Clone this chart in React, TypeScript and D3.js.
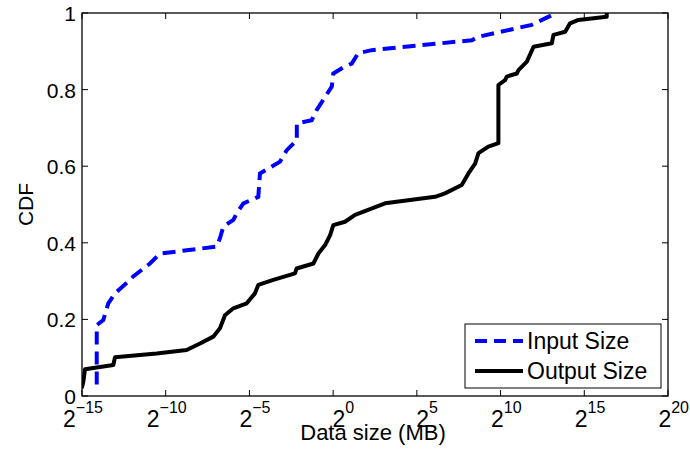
import React from "react";
import * as d3 from "d3";

// x values are log2 of data size in MB
const inputExp = [-14.12, -14.12, -13.73, -13.43, -13.03, -12.13, -11.94, -10.94, -10.44, -10.34, -6.95, -6.76, -6.56, -5.96, -5.76, -5.36, -4.47, -4.37, -4.17, -3.17, -2.77, -2.17, -2.17, -1.28, -0.98, -0.48, -0.08, 0.01, 0.61, 1.11, 1.5, 2.3, 8.28, 8.68, 11.86, 12.66, 13.36];
const inputCdf = [0.03, 0.185, 0.198, 0.242, 0.268, 0.303, 0.312, 0.346, 0.368, 0.372, 0.39, 0.412, 0.442, 0.46, 0.477, 0.503, 0.52, 0.581, 0.586, 0.612, 0.642, 0.668, 0.712, 0.72, 0.747, 0.781, 0.808, 0.842, 0.858, 0.868, 0.895, 0.903, 0.929, 0.938, 0.969, 0.986, 1.0];

const outputExp = [-15.02, -14.92, -14.82, -13.13, -13.03, -10.54, -8.75, -7.95, -7.16, -6.76, -6.46, -5.96, -5.16, -4.67, -4.47, -3.57, -2.28, -2.18, -1.18, -0.88, -0.48, -0.18, 0.01, 0.71, 1.31, 3.1, 6.09, 6.68, 7.68, 8.08, 8.48, 8.68, 9.27, 9.87, 9.87, 10.27, 10.37, 10.97, 11.07, 11.57, 11.97, 13.06, 13.16, 13.86, 14.15, 14.65, 16.34, 16.34];
const outputCdf = [0.02, 0.037, 0.07, 0.081, 0.101, 0.111, 0.12, 0.137, 0.155, 0.177, 0.211, 0.229, 0.242, 0.268, 0.29, 0.303, 0.32, 0.333, 0.346, 0.372, 0.394, 0.42, 0.446, 0.455, 0.473, 0.503, 0.52, 0.529, 0.551, 0.581, 0.607, 0.634, 0.651, 0.66, 0.812, 0.825, 0.834, 0.842, 0.851, 0.873, 0.912, 0.921, 0.943, 0.951, 0.973, 0.982, 0.99, 1.0];

const xTickExp = [-15, -10, -5, 0, 5, 10, 15, 20];
const yTicks = [0, 0.2, 0.4, 0.6, 0.8, 1];
const seriesNames = ["Input Size", "Output Size"];

const W = 690;
const H = 449;
const m = { left: 82, right: 22, top: 13, bottom: 53 };
const font = "'Liberation Sans', Arial, Helvetica, sans-serif";

export default function App() {
  const x = d3
    .scaleLog()
    .base(2)
    .domain([Math.pow(2, -15), Math.pow(2, 20)])
    .range([m.left, W - m.right]);
  const y = d3.scaleLinear().domain([0, 1]).range([H - m.bottom, m.top]);

  const line = d3
    .line<[number, number]>()
    .x(d => x(Math.pow(2, d[0])))
    .y(d => y(d[1]));

  const inputPts = inputExp.map((e, i) => [e, inputCdf[i]] as [number, number]);
  const outputPts = outputExp.map((e, i) => [e, outputCdf[i]] as [number, number]);

  const x0 = m.left, x1 = W - m.right, y0 = H - m.bottom, y1 = m.top;
  const tick = 6;

  // legend box
  const lg = { x: 465, y: 324, w: 196, h: 64 };

  return (
    <svg width={W} height={H} style={{ position: "absolute", left: 0, top: 0, background: "#fff" }} fontFamily={font}>
      <defs>
        <clipPath id="plot">
          <rect x={x0} y={y1 - 3} width={x1 - x0} height={y0 - y1 + 3} />
        </clipPath>
      </defs>
      <rect x={0} y={0} width={W} height={H} fill="#fff" />

      {/* ticks */}
      {xTickExp.map(e => {
        const px = x(Math.pow(2, e));
        return (
          <g key={"xt" + e}>
            <line x1={px} x2={px} y1={y0} y2={y0 - tick} stroke="#000" strokeWidth={1} />
            <line x1={px} x2={px} y1={y1} y2={y1 + tick} stroke="#000" strokeWidth={1} />
            <text x={px + 21} y={y0 + 31} textAnchor="end" fontSize={23} fill="#000">
              <tspan>2</tspan>
              <tspan fontSize={16} dy={-14}>{e < 0 ? "\u2212" + Math.abs(e) : e}</tspan>
            </text>
          </g>
        );
      })}
      {yTicks.map(t => {
        const py = y(t);
        return (
          <g key={"yt" + t}>
            <line x1={x0} x2={x0 + tick} y1={py} y2={py} stroke="#000" strokeWidth={1} />
            <line x1={x1} x2={x1 - tick} y1={py} y2={py} stroke="#000" strokeWidth={1} />
            <text x={x0 - 6} y={py + 8} textAnchor="end" fontSize={21} fill="#000">
              {t}
            </text>
          </g>
        );
      })}

      <g clipPath="url(#plot)">
        <path d={line(inputPts) || ""} fill="none" stroke="#0000ff" strokeWidth={4} strokeDasharray="13,7" />
        <path d={line(outputPts) || ""} fill="none" stroke="#000" strokeWidth={4} strokeLinejoin="round" />
      </g>

      <rect x={x0} y={y1} width={x1 - x0} height={y0 - y1} fill="none" stroke="#000" strokeWidth={1.3} />

      {/* axis labels */}
      <text x={373} y={440} textAnchor="middle" fontSize={22} fill="#000">Data size (MB)</text>
      <text transform={`translate(33,${(y0 + y1) / 2}) rotate(-90)`} textAnchor="middle" fontSize={21} fill="#000">CDF</text>

      {/* legend */}
      <rect x={lg.x} y={lg.y} width={lg.w} height={lg.h} fill="#fff" stroke="#000" strokeWidth={1} />
      <line x1={475} x2={523} y1={341} y2={341} stroke="#0000ff" strokeWidth={4} strokeDasharray="12,7" />
      <text x={527} y={349} fontSize={23} fill="#000">{seriesNames[0]}</text>
      <line x1={475} x2={523} y1={371} y2={371} stroke="#000" strokeWidth={4} />
      <text x={527} y={379} fontSize={23} fill="#000">{seriesNames[1]}</text>
    </svg>
  );
}
